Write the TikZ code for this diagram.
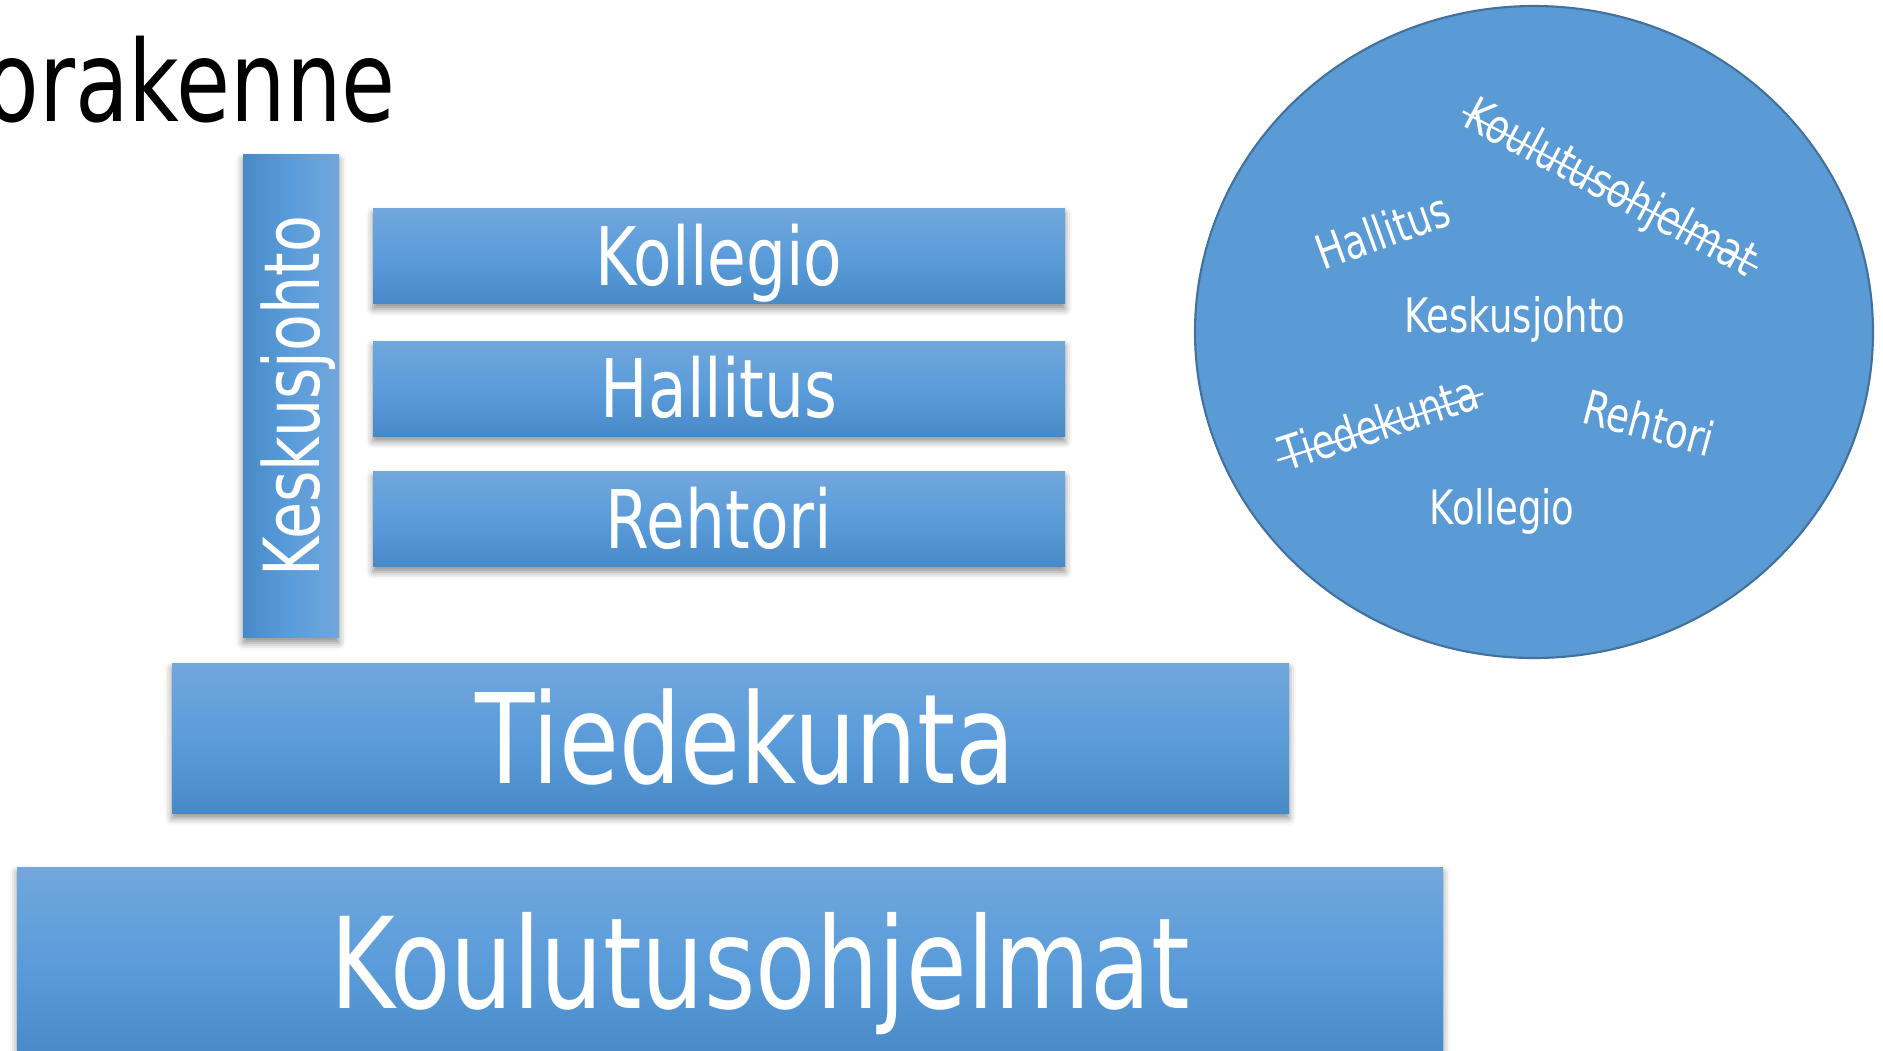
\documentclass[tikz,border=0pt]{standalone}
\usepackage{fontspec}
\setmainfont{DejaVu Sans}[FakeStretch=0.78]
\usepackage{xcolor}
\usepackage{tikz}
\usetikzlibrary{shapes,shadows.blur,calc}
\definecolor{boxtop}{HTML}{71A7DC}
\definecolor{boxmid}{HTML}{5B9CDA}
\definecolor{boxbot}{HTML}{4889C8}
\definecolor{ringfill}{HTML}{5B9BD5}
\definecolor{ringline}{HTML}{41719C}
\tikzstyle{block} = [rectangle, top color=boxtop, bottom color=boxbot, middle color=boxmid, text=white, inner sep=0pt, text depth=0pt, blur shadow={shadow xshift=0pt, shadow yshift=-3pt, shadow opacity=45, shadow blur radius=4pt}]
\tikzstyle{small} = [block, minimum width=13.84cm, minimum height=1.9cm, font=\fontsize{46}{50}\selectfont, text height=33.5pt]
\tikzstyle{word} = [text=white, font=\fontsize{27}{30}\selectfont, inner sep=0pt, text height=19.7pt, text depth=0pt]
\tikzstyle{strikeline} = [draw=white, line width=1.3pt, shorten <=-3pt, shorten >=-3pt]

\begin{document}
\begin{tikzpicture}
\useasboundingbox (0,0) rectangle (37.66,-21);

\node [anchor=base east, inner sep=0pt, font=\fontsize{64}{70}\selectfont] (title) at (7.92,-2.42) {orakenne};

\node [block, left color=boxbot, right color=boxtop, middle color=boxmid, minimum width=1.92cm, minimum height=9.66cm] (kjbar) at (5.82,-7.92) {};
\node [rotate=90, text=white, inner sep=0pt, text height=32pt, text depth=0pt, font=\fontsize{44}{48}\selectfont] (kjtext) at (kjbar) {Keskusjohto};

\node [small] (kollegio) at (14.38,-5.12) {Kollegio};
\node [small] (hallitus) at (14.38,-7.77) {Hallitus};
\node [small] (rehtori) at (14.38,-10.38) {Rehtori};

\node [block, minimum width=22.34cm, minimum height=3cm, text height=51.8pt, font=\fontsize{71}{76}\selectfont] (tiedekunta) at (14.61,-14.76) {\hspace*{0.6cm}Tiedekunta};
\node [block, minimum width=28.52cm, minimum height=3.8cm, text height=52.5pt, font=\fontsize{72}{76}\selectfont] (koulutus) at (14.6,-19.24) {\hspace*{1.2cm}Koulutusohjelmat};

\node [ellipse, draw=ringline, line width=1.2pt, fill=ringfill, minimum width=13.56cm, minimum height=13.04cm, inner sep=0pt] (ring) at (30.68,-6.64) {};

\node [word, rotate=-28] (wkoulutus) at (32.24,-3.72) {Koulutusohjelmat};
\node [word, rotate=20] (whallitus) at (27.66,-4.62) {Hallitus};
\node [word] (wkeskus) at (30.3,-6.3) {Keskusjohto};
\node [word, rotate=18] (wtiedekunta) at (27.58,-8.46) {Tiedekunta};
\node [word, rotate=-15] (wrehtori) at (32.98,-8.46) {Rehtori};
\node [word] (wkollegio) at (30.04,-10.14) {Kollegio};

\path [strikeline] ($(wkoulutus.base west)!0.375!(wkoulutus.north west)$) -- ($(wkoulutus.base east)!0.375!(wkoulutus.north east)$);
\path [strikeline] ($(wtiedekunta.base west)!0.375!(wtiedekunta.north west)$) -- ($(wtiedekunta.base east)!0.375!(wtiedekunta.north east)$);

\end{tikzpicture}
\end{document}
